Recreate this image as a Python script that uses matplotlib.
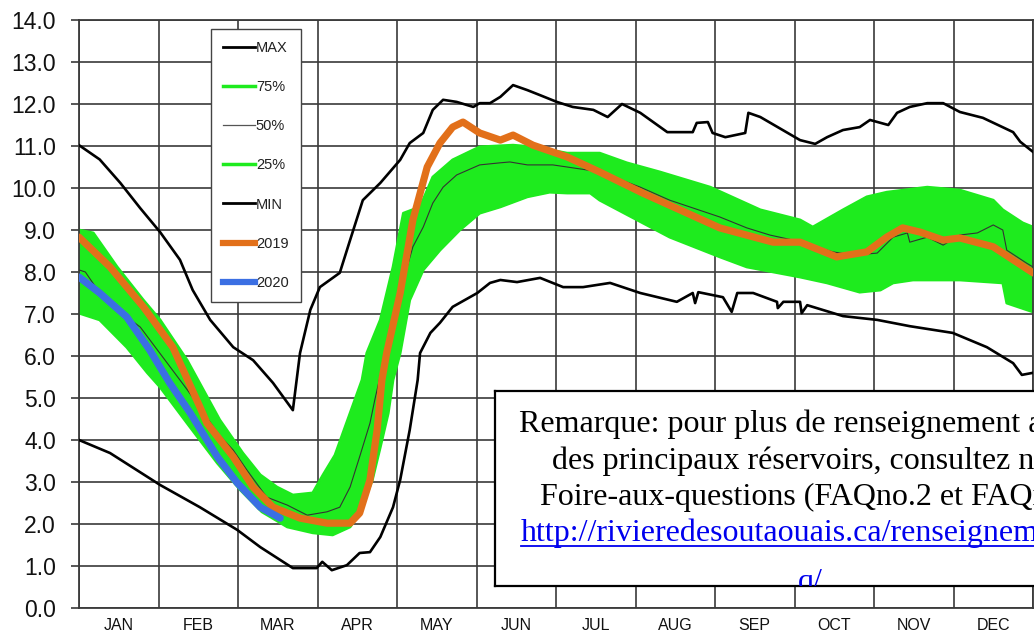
import numpy as np
import matplotlib
matplotlib.use("Agg")
import matplotlib.pyplot as plt
from matplotlib.lines import Line2D

plt.rcParams['font.family'] = ['Liberation Sans', 'DejaVu Sans']

# ---------------- data (x in months from Jan 1, y in chart units) ----------------
months = ["JAN", "FEB", "MAR", "APR", "MAY", "JUN", "JUL", "AUG", "SEP", "OCT", "NOV", "DEC"]
y_ticks = list(range(0, 15))

max_x = [0.0, 0.26, 0.52, 0.77, 1.02, 1.27, 1.43, 1.65, 1.94, 2.19, 2.44, 2.69, 2.78, 2.91, 3.03,
         3.28, 3.41, 3.57, 3.79, 4.04, 4.16, 4.33, 4.45, 4.58, 4.75, 4.96, 5.04, 5.17, 5.30, 5.46, 5.64,
         5.80, 6.01, 6.21, 6.47, 6.65, 6.83, 7.06, 7.40, 7.72, 7.77, 7.91, 7.97, 8.13, 8.38, 8.42, 8.57,
         9.07, 9.26, 9.41, 9.61, 9.82, 9.95, 10.18, 10.29, 10.45, 10.67, 10.87, 11.08, 11.37, 11.75, 11.84, 12.0]
max_y = [11.02, 10.68, 10.12, 9.52, 8.95, 8.29, 7.57, 6.86, 6.21, 5.90, 5.36, 4.71, 6.07, 7.10, 7.64,
         7.98, 8.76, 9.71, 10.12, 10.67, 11.07, 11.31, 11.86, 12.10, 12.05, 11.93, 12.02, 12.02, 12.17, 12.45, 12.33,
         12.21, 12.05, 11.93, 11.86, 11.69, 12.0, 11.79, 11.33, 11.33, 11.55, 11.57, 11.31, 11.21, 11.31, 11.79, 11.69,
         11.14, 11.05, 11.21, 11.38, 11.45, 11.62, 11.50, 11.79, 11.93, 12.02, 12.02, 11.81, 11.67, 11.33, 11.10, 10.86]

min_x = [0.0, 0.39, 1.02, 1.52, 1.99, 2.28, 2.69, 2.99, 3.06, 3.18, 3.37, 3.53, 3.66, 3.79, 3.95, 4.04,
         4.16, 4.26, 4.29, 4.42, 4.54, 4.70, 5.01, 5.17, 5.30, 5.51, 5.80, 6.09, 6.34, 6.68, 7.06, 7.52,
         7.72, 7.75, 7.79, 8.10, 8.21, 8.28, 8.48, 8.78, 8.79, 8.86, 9.07, 9.09, 9.16, 9.61, 10.04, 10.45,
         10.99, 11.42, 11.75, 11.86, 12.0]
min_y = [4.0, 3.69, 2.93, 2.40, 1.86, 1.45, 0.95, 0.95, 1.10, 0.90, 1.02, 1.31, 1.33, 1.69, 2.40, 3.05,
         4.24, 5.43, 6.07, 6.55, 6.79, 7.17, 7.50, 7.74, 7.81, 7.76, 7.86, 7.64, 7.64, 7.74, 7.50, 7.29,
         7.50, 7.26, 7.52, 7.40, 7.05, 7.50, 7.50, 7.29, 7.14, 7.29, 7.29, 7.02, 7.21, 6.95, 6.86, 6.71,
         6.55, 6.21, 5.83, 5.55, 5.60]

p75_x = [0.0, 0.18, 0.48, 0.81, 1.02, 1.36, 1.77, 2.06, 2.28, 2.49, 2.69, 2.94, 3.07, 3.22, 3.41, 3.56,
         3.62, 3.79, 3.95, 4.08, 4.29, 4.45, 4.70, 5.04, 5.46, 5.71, 6.14, 6.55, 6.89, 7.31, 7.94, 8.57,
         9.07, 9.23, 9.61, 9.91, 10.16, 10.67, 11.08, 11.50, 11.62, 11.87, 12.0]
p75_y = [9.0, 8.93, 8.12, 7.33, 6.86, 5.90, 4.48, 3.69, 3.17, 2.88, 2.69, 2.74, 3.17, 3.64, 4.64, 5.43,
         6.07, 6.86, 8.12, 9.40, 9.55, 10.26, 10.67, 10.98, 11.02, 10.98, 10.83, 10.83, 10.60, 10.38, 10.02, 9.48,
         9.24, 9.07, 9.48, 9.79, 9.90, 10.02, 9.95, 9.71, 9.48, 9.17, 9.07]

p25_x = [0.0, 0.26, 0.60, 0.86, 1.02, 1.36, 1.74, 2.03, 2.30, 2.62, 2.94, 3.19, 3.41, 3.53, 3.69, 3.79,
         3.89, 3.95, 4.04, 4.16, 4.33, 4.54, 4.79, 5.04, 5.30, 5.64, 5.92, 6.14, 6.43, 6.55, 7.02, 7.43,
         8.06, 8.40, 9.07, 9.41, 9.82, 10.08, 10.24, 10.49, 11.08, 11.62, 11.67, 12.0]
p25_y = [7.02, 6.86, 6.21, 5.60, 5.26, 4.40, 3.45, 2.81, 2.29, 1.93, 1.79, 1.74, 1.93, 2.26, 3.05, 3.83,
         4.64, 5.43, 6.07, 7.33, 8.05, 8.52, 9.0, 9.40, 9.55, 9.79, 9.90, 9.88, 9.88, 9.71, 9.24, 8.83,
         8.36, 8.12, 7.88, 7.74, 7.52, 7.57, 7.74, 7.81, 7.81, 7.74, 7.26, 7.05]

p50_x = [0.0, 0.08, 0.26, 0.60, 0.77, 1.36, 1.77, 1.94, 2.11, 2.36, 2.62, 2.87, 3.12, 3.28, 3.41, 3.53,
         3.66, 3.72, 3.87, 4.08, 4.20, 4.33, 4.45, 4.58, 4.75, 5.04, 5.30, 5.42, 5.64, 5.96, 6.39, 6.55,
         7.06, 7.43, 8.06, 8.40, 8.69, 8.98, 9.48, 9.74, 10.04, 10.24, 10.42, 10.45, 10.67, 10.87, 11.08, 11.30,
         11.50, 11.62, 11.67, 11.92, 12.0]
p50_y = [8.05, 8.0, 7.50, 6.93, 6.69, 5.20, 4.10, 3.76, 3.29, 2.64, 2.45, 2.21, 2.29, 2.40, 2.88, 3.60,
         4.40, 4.95, 6.20, 7.81, 8.60, 9.07, 9.64, 10.02, 10.31, 10.55, 10.60, 10.62, 10.55, 10.55, 10.43, 10.38,
         10.02, 9.71, 9.31, 9.05, 8.88, 8.76, 8.48, 8.40, 8.45, 8.83, 8.93, 8.71, 8.83, 8.64, 8.88, 8.93,
         9.12, 9.0, 8.52, 8.21, 8.12]

y2019_x = [0.0, 0.39, 0.81, 1.18, 1.52, 1.61, 1.94, 2.19, 2.44, 2.78, 3.12, 3.41, 3.53, 3.66, 3.75, 3.81,
           3.87, 4.04, 4.20, 4.38, 4.54, 4.70, 4.83, 5.04, 5.30, 5.46, 5.71, 6.14, 6.55, 7.09, 8.06, 8.73,
           9.07, 9.53, 9.91, 10.16, 10.36, 10.58, 10.87, 11.08, 11.50, 12.0]
y2019_y = [8.83, 8.12, 7.17, 6.21, 4.79, 4.40, 3.60, 2.88, 2.40, 2.14, 2.02, 2.02, 2.26, 3.05, 4.24, 5.43,
           6.07, 7.50, 9.24, 10.50, 11.07, 11.45, 11.57, 11.31, 11.14, 11.26, 11.02, 10.74, 10.38, 9.88, 9.05, 8.71,
           8.71, 8.36, 8.48, 8.83, 9.05, 8.95, 8.76, 8.81, 8.60, 7.98]

y2020_x = [0.0, 0.26, 0.60, 0.89, 1.14, 1.40, 1.74, 1.99, 2.28, 2.53]
y2020_y = [7.88, 7.50, 6.93, 6.14, 5.36, 4.64, 3.60, 2.98, 2.40, 2.14]

note_lines = [
    "Remarque: pour plus de renseignement au sujet",
    "des principaux réservoirs, consultez notre",
    "Foire-aux-questions (FAQno.2 et FAQno.3)",
    "http://rivieredesoutaouais.ca/renseignements-generaux/fa",
    "q/",
]

# ---------------- styling ----------------
GREEN = '#1EEB1E'
ORANGE = '#E2701A'
BLUE = '#3B6FE3'
GRID = '#3a3a3a'

W, H = 1034, 639
fig = plt.figure(figsize=(W / 100, H / 100), dpi=100)
fig.patch.set_facecolor('white')

ax = fig.add_axes([79 / W, 1 - 608 / H, 954 / W, 588 / H])
ax.set_xlim(0, 12)
ax.set_ylim(0, 14)

# grid
ax.set_xticks(np.arange(0, 13))
ax.set_xticks(np.arange(12) + 0.5, minor=True)
ax.set_xticklabels([])
ax.set_xticklabels(months, minor=True)
ax.tick_params(axis='x', which='major', length=0)
ax.tick_params(axis='x', which='minor', length=0, pad=7, labelsize=11.5, labelcolor='#111')
ax.set_yticks(y_ticks)
ax.set_yticklabels([f"{v:.1f}" for v in y_ticks])
ax.tick_params(axis='y', length=6, width=1.2, color=GRID, pad=10.5, labelsize=16.5, labelcolor='#111')
ax.grid(True, which='major', color=GRID, lw=1.2)
ax.set_axisbelow(True)
for s in ax.spines.values():
    s.set_color(GRID)
    s.set_linewidth(1.3)

# percentile band
xs = np.linspace(0, 12, 1201)
lo = np.interp(xs, p25_x, p25_y)
hi = np.interp(xs, p75_x, p75_y)
ax.fill_between(xs, lo, hi, color=GREEN, lw=0, zorder=2)
ax.plot(p75_x, p75_y, color=GREEN, lw=2, zorder=2)
ax.plot(p25_x, p25_y, color=GREEN, lw=2, zorder=2)

ax.plot(max_x, max_y, color='black', lw=1.9, zorder=3)
ax.plot(min_x, min_y, color='black', lw=1.9, zorder=3)
ax.plot(p50_x, p50_y, color='#333333', lw=0.8, zorder=3)
ax.plot(y2019_x, y2019_y, color=ORANGE, lw=5.2, solid_capstyle='round', zorder=4)
ax.plot(y2020_x, y2020_y, color=BLUE, lw=5.2, solid_capstyle='round', zorder=5)

handles = [
    Line2D([], [], color='black', lw=2),
    Line2D([], [], color=GREEN, lw=2.5),
    Line2D([], [], color='#555555', lw=0.9),
    Line2D([], [], color=GREEN, lw=2.5),
    Line2D([], [], color='black', lw=2),
    Line2D([], [], color=ORANGE, lw=4.5),
    Line2D([], [], color=BLUE, lw=4.5),
]
labels = ["MAX", "75%", "50%", "25%", "MIN", "2019", "2020"]
leg = ax.legend(handles, labels, loc='upper left', bbox_to_anchor=(0.138, 0.985),
                frameon=True, fancybox=False, edgecolor='#444444', framealpha=1,
                fontsize=10.5, labelspacing=1.72, handlelength=2.2, handletextpad=0.05,
                borderpad=0.85, borderaxespad=0)
leg.get_frame().set_linewidth(1.0)
for t in leg.get_texts():
    t.set_color('#222222')
leg.set_zorder(6)

# note box (extends past the right edge of the picture)
box_l, box_r, box_t, box_b = 495, 1115, 391, 586
bax = fig.add_axes([box_l / W, 1 - box_b / H, (box_r - box_l) / W, (box_b - box_t) / H])
bax.set_xlim(box_l, box_r)
bax.set_ylim(box_b, box_t)
bax.set_xticks([])
bax.set_yticks([])
bax.set_facecolor('white')
for s in bax.spines.values():
    s.set_color('black')
    s.set_linewidth(1.6)
bax.set_zorder(7)

note_x = [519, 552, 540, 521, 798]
note_base = [432, 468.5, 505, 541.5, 590]
for i, (t, x, b) in enumerate(zip(note_lines, note_x, note_base)):
    col = '#0000EE' if i >= 3 else 'black'
    bax.text(x, b, t, fontsize=23, family=['Liberation Serif', 'DejaVu Serif'],
             color=col, va='baseline', ha='left', clip_on=True)
bax.plot([521, box_r], [note_base[3] + 4, note_base[3] + 4], color='#0000EE', lw=1.3)

fig.savefig('out.png', dpi=100, facecolor='white')
